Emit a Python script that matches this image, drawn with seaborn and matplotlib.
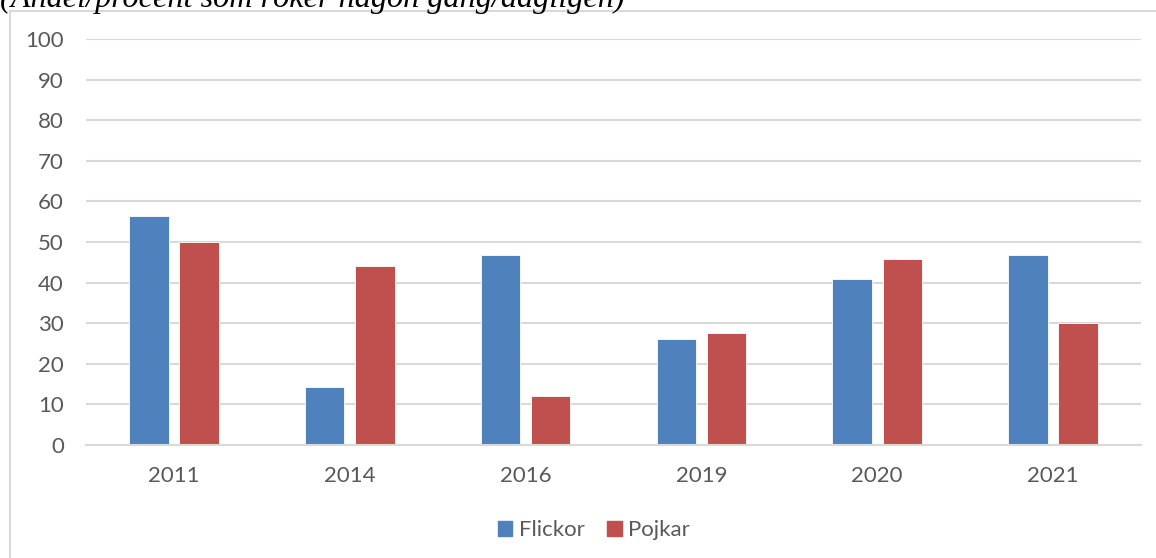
import numpy as np
import pandas as pd
import seaborn as sns
import matplotlib
matplotlib.use("Agg")
import matplotlib.pyplot as plt
from matplotlib.patches import Rectangle

# data
years = ["2011", "2014", "2016", "2019", "2020", "2021"]
flickor = [56.3, 14.3, 46.9, 26.2, 40.8, 46.8]
pojkar = [50.0, 44.0, 12.0, 27.5, 45.9, 30.0]
series = ["Flickor", "Pojkar"]
colors = ["#4F81BD", "#C0504D"]
title = "(Andel/procent som röker någon gång/dagligen)"

df = pd.DataFrame({
    "År": years * 2,
    "Andel": flickor + pojkar,
    "Kön": [series[0]] * len(years) + [series[1]] * len(years),
})

sns.set_style("white")
plt.rcParams["font.family"] = ["Lato", "DejaVu Sans"]

W, H = 1156, 558
fig = plt.figure(figsize=(W / 100, H / 100), dpi=100)
ax = fig.add_axes([86 / W, 113 / H, (1141 - 86) / W, 406 / H])

sns.barplot(data=df, x="År", y="Andel", hue="Kön", palette=colors,
            saturation=1, width=0.57, gap=0.21, ax=ax, legend=False,
            edgecolor="#FFFFFF", linewidth=0.6)

ax.set_xlim(-0.5, 5.5)
ax.set_ylim(0, 100)
ax.set_yticks(np.arange(0, 101, 10))
ax.grid(axis="y", color="#D9D9D9", linewidth=1.5)
ax.set_axisbelow(True)
for s in ["left", "right", "top"]:
    ax.spines[s].set_visible(False)
ax.spines["bottom"].set_color("#D9D9D9")
ax.spines["bottom"].set_linewidth(1.5)
ax.tick_params(axis="both", length=0, labelsize=16, colors="#595959")
ax.tick_params(axis="y", pad=16)
ax.tick_params(axis="x", pad=15)
ax.set_xlabel("")
ax.set_ylabel("")

# legend
handles = [Rectangle((0, 0), 1, 1, color=c) for c in colors]
fig.legend(handles, series, loc="center", bbox_to_anchor=(594 / W, 1 - 530 / H),
           ncol=2, frameon=False, fontsize=16, labelcolor="#595959",
           handlelength=0.65, handleheight=0.65, handletextpad=0.3,
           columnspacing=1.0)

# outer chart frame (cut by the picture edge)
fig.patches.append(Rectangle((10 / W, -0.1), 1.2, 1.1 - 11 / H, transform=fig.transFigure,
                             fill=False, edgecolor="#D9D9D9", linewidth=1.5))

# cropped caption above the chart
t = fig.text(0, 1 - 7 / H, title, family="Liberation Serif", style="italic",
             fontsize=20, va="baseline", ha="left", color="black")
fig.canvas.draw()
bb = t.get_window_extent()
t.set_fontsize(20 * 625 / bb.width)

fig.savefig("out.png", dpi=100)
